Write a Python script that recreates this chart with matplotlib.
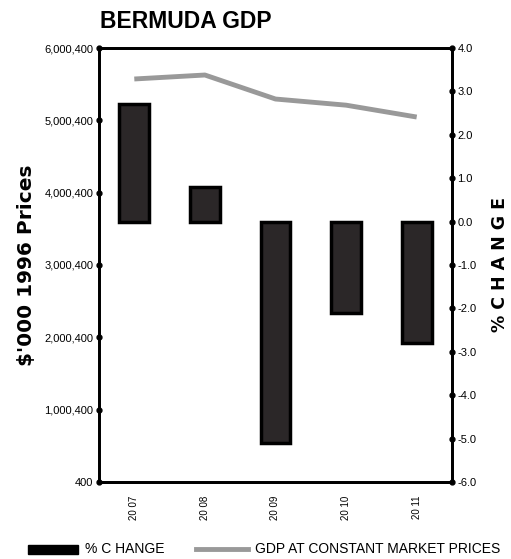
import matplotlib.pyplot as plt
import numpy as np

plt.rcParams['font.family'] = ['Liberation Sans Narrow', 'Liberation Sans', 'DejaVu Sans']

years = ['20 07', '20 08', '20 09', '20 10', '20 11']
pct_change = [2.7, 0.8, -5.1, -2.1, -2.8]
gdp = [5572000, 5627000, 5295000, 5210000, 5046000]

left_ticks = np.arange(400, 6000401, 1000000)
right_ticks = np.arange(-6.0, 4.01, 1.0)

fig = plt.figure(figsize=(5.11, 5.59), dpi=100)
ax = fig.add_axes([99/511, 77/559, 353/511, 434/559])
ax2 = ax.twinx()

x = np.arange(len(years))

# bars on the % change axis
ax2.bar(x, pct_change, width=0.42, color='#2b2728', edgecolor='black', linewidth=2.5, zorder=2)
ax2.set_ylim(-6.0, 4.0)
ax2.set_yticks(right_ticks)
ax2.set_yticklabels(['%.1f' % v for v in right_ticks], fontsize=8)

# GDP line on the left axis, drawn on top
ax.set_zorder(ax2.get_zorder() + 1)
ax.patch.set_visible(False)
ax.plot(x, gdp, color='#999999', linewidth=3.5, solid_capstyle='butt')
ax.set_ylim(400, 6000400)
ax.set_yticks(left_ticks)
ax.set_yticklabels(['{:,}'.format(v) for v in left_ticks], fontsize=8)
ax.set_xlim(-0.5, 4.5)
ax.set_xticks(x)
ax.set_xticklabels(years, rotation=90, fontsize=7)

for a in (ax, ax2):
    for s in a.spines.values():
        s.set_linewidth(2)
    a.tick_params(length=0, pad=4)
ax.tick_params(axis='x', pad=10)

# round dots where the ticks sit on the spines
ax.plot(np.zeros(len(left_ticks)), left_ticks, 'o', color='black', ms=3.5,
        transform=ax.get_yaxis_transform(), clip_on=False, zorder=5)
ax2.plot(np.ones(len(right_ticks)), right_ticks, 'o', color='black', ms=3.5,
         transform=ax2.get_yaxis_transform(), clip_on=False, zorder=5)

ax.set_ylabel("$'000 1996 Prices", fontsize=14.5, fontweight='bold',
              family=['DejaVu Sans'], labelpad=6)
ax2.set_ylabel('% C H A N G E', fontsize=12.5, fontweight='bold',
               family=['DejaVu Sans'], labelpad=10)

fig.text(100/511, 1 - 21/559, 'BERMUDA GDP', fontsize=16.5, fontweight='bold', va='center')

# legend along the bottom
fig.patches.append(plt.Rectangle((28/511, 1 - 554/559), 50/511, 9/559,
                                 transform=fig.transFigure, color='black'))
fig.text(85/511, 1 - 549/559, '% C HANGE', fontsize=10, va='center')
fig.lines.append(plt.Line2D([196/511, 248/511], [1 - 549/559, 1 - 549/559],
                            transform=fig.transFigure, color='#999999', linewidth=3.5))
fig.text(255/511, 1 - 549/559, 'GDP AT CONSTANT MARKET PRICES', fontsize=10, va='center')

fig.savefig('out.png', dpi=100)
